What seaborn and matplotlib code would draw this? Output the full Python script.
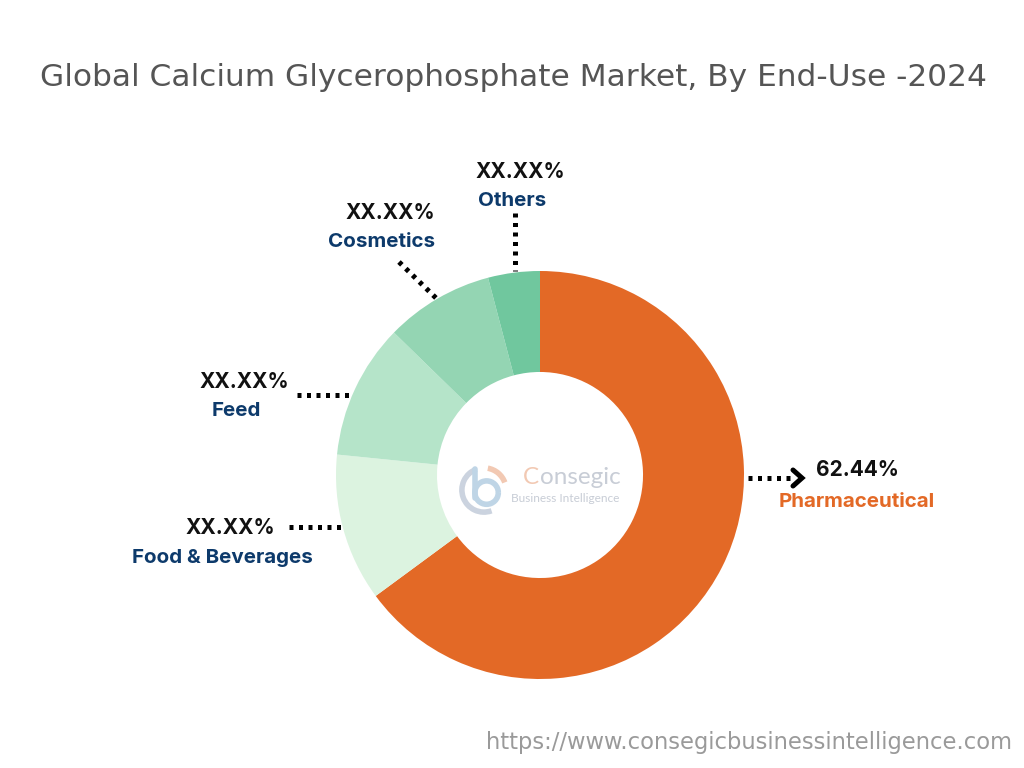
import numpy as np
import pandas as pd
import matplotlib
matplotlib.use('Agg')
import matplotlib.pyplot as plt
import seaborn as sns
from matplotlib.patches import Arc

# data (slice sizes as drawn in the picture, labels as printed)
segments = ['Pharmaceutical', 'Food & Beverages', 'Feed', 'Cosmetics', 'Others']
shares = [64.9, 11.7, 10.7, 8.6, 4.1]
share_labels = ['62.44%', 'XX.XX%', 'XX.XX%', 'XX.XX%', 'XX.XX%']
colors = ['#E36926', '#DCF3E0', '#B5E4C9', '#94D5B3', '#70C79E']

df = pd.DataFrame({'segment': segments, 'share': shares, 'label': share_labels})

sns.set_theme(style='white')
plt.rcParams['font.family'] = ['Inter', 'DejaVu Sans']

W, H = 1024, 768
fig = plt.figure(figsize=(W / 100, H / 100), dpi=100)

def fx(px):
    return px / W

def fy(py):
    return 1 - py / H

# donut
cx, cy, r = 540, 475, 204
ax = fig.add_axes([fx(cx - r), fy(cy + r), 2 * r / W, 2 * r / H])
ax.pie(df['share'], colors=colors, startangle=90, counterclock=False,
       radius=1, wedgeprops=dict(width=0.495, linewidth=0))
ax.set_xlim(-1, 1)
ax.set_ylim(-1, 1)
ax.set_aspect('equal')
ax.axis('off')

# title
fig.text(fx(514), fy(78), 'Global Calcium Glycerophosphate Market, By End-Use -2024',
         ha='center', va='center', fontsize=22.5, color='#555555',
         family=['DejaVu Sans'])

# leader lines (figure pixel coords)
dot = dict(color='black', lw=3.6, linestyle=(0, (0.8, 1.1)), solid_capstyle='butt',
           dash_capstyle='butt', transform=fig.transFigure)
leaders = {
    'Pharmaceutical': [(748, 478), (794, 478)],
    'Food & Beverages': [(289, 527), (341, 527)],
    'Feed': [(297, 395), (349, 395)],
    'Cosmetics': [(399, 262), (437, 299)],
    'Others': [(515, 213), (515, 271)],
}
for seg, pts in leaders.items():
    xs = [fx(p[0]) for p in pts]
    ys = [fy(p[1]) for p in pts]
    fig.add_artist(plt.Line2D(xs, ys, **dot))

# chevron for pharmaceutical
fig.add_artist(plt.Line2D([fx(793), fx(802), fx(793)], [fy(470), fy(478), fy(486)],
                          color='black', lw=3.6, transform=fig.transFigure,
                          solid_joinstyle='miter'))

# labels
label_pos = {
    'Pharmaceutical': (857, 470, 857, 502),
    'Food & Beverages': (230, 528, 222, 558),
    'Feed': (244, 382, 236, 411),
    'Cosmetics': (390, 213, 382, 242),
    'Others': (520, 172, 512, 201),
}
for _, row in df.iterrows():
    x1, y1, x2, y2 = label_pos[row['segment']]
    name_color = '#E36926' if row['segment'] == 'Pharmaceutical' else '#0D3A6B'
    fig.text(fx(x1), fy(y1), row['label'], ha='center', va='center',
             fontsize=15, fontweight='bold', color='#111111')
    fig.text(fx(x2), fy(y2), row['segment'], ha='center', va='center',
             fontsize=14.8, fontweight='bold', color=name_color)

# logo in centre
t_c = fig.text(fx(523), fy(478), 'C', ha='left', va='center', fontsize=17.5,
               color='#F2C9B3', family=['Lato', 'DejaVu Sans'])
renderer = fig.canvas.get_renderer()
c_end = t_c.get_window_extent(renderer).x1
fig.text(c_end / W + 0.0005, fy(478), 'onsegic', ha='left', va='center', fontsize=17.5,
         color='#C8CDD6', family=['Lato', 'DejaVu Sans'])
fig.text(fx(511), fy(498), 'Business Intelligence', ha='left', va='center', fontsize=8.6,
         color='#C8CDD6', family=['Lato', 'DejaVu Sans'])
lax = fig.add_axes([fx(458), fy(516), 52 / W, 52 / H])
lax.set_xlim(-1, 1)
lax.set_ylim(-1, 1)
lax.set_aspect('equal')
lax.axis('off')
lax.add_patch(Arc((0, 0), 1.7, 1.7, theta1=110, theta2=290, lw=4, color='#CBD3DF'))
lax.add_patch(Arc((0.1, -0.1), 0.9, 0.9, theta1=0, theta2=360, lw=4, color='#BFD5E6'))
lax.plot([-0.35, -0.35], [-0.3, 0.8], lw=4, color='#BFD5E6')
lax.add_patch(Arc((0, 0), 1.7, 1.7, theta1=20, theta2=80, lw=4, color='#F2C9B3'))

# url
fig.text(fx(1012), fy(743), 'https://www.consegicbusinessintelligence.com', ha='right',
         va='center', fontsize=16.3, color='#9A9A9A', family=['DejaVu Sans'])

fig.savefig('out.png', dpi=100, facecolor='white')
